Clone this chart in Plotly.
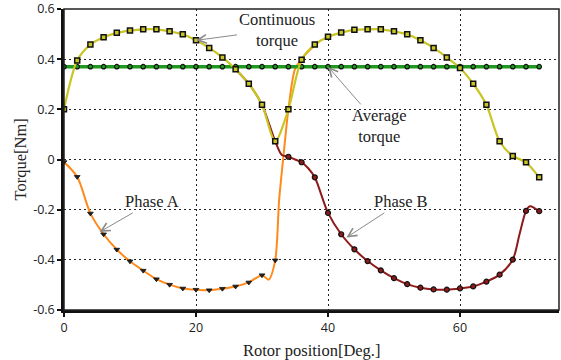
import plotly.graph_objects as go

# ---------------- data ----------------
cont_x = [0, 2, 4, 6, 8, 10, 12, 14, 16, 18, 20, 22, 24, 26, 28, 30, 32, 34, 36,
          38, 40, 42, 44, 46, 48, 50, 52, 54, 56, 58, 60, 62, 64, 66, 68, 70, 72]
cont_y = [0.200, 0.395, 0.458, 0.487, 0.505, 0.514, 0.519, 0.519, 0.511, 0.499,
          0.475, 0.445, 0.407, 0.360, 0.302, 0.218, 0.073, 0.200, 0.398,
          0.458, 0.489, 0.506, 0.517, 0.519, 0.519, 0.511, 0.499, 0.475, 0.445,
          0.407, 0.365, 0.302, 0.218, 0.073, 0.014, -0.011, -0.071]

avg_x = [0, 2, 4, 6, 8, 10, 12, 14, 16, 18, 20, 22, 24, 26, 28, 30, 32, 34, 36,
         38, 40, 42, 44, 46, 48, 50, 52, 54, 56, 58, 60, 62, 64, 66, 68, 70, 72]
avg_y = [0.37, 0.37, 0.37, 0.37, 0.37, 0.37, 0.37, 0.37, 0.37, 0.37, 0.37, 0.37,
         0.37, 0.37, 0.37, 0.37, 0.37, 0.37, 0.37, 0.37, 0.37, 0.37, 0.37, 0.37,
         0.37, 0.37, 0.37, 0.37, 0.37, 0.37, 0.37, 0.37, 0.37, 0.37, 0.37, 0.37, 0.37]

phaseA_x = [0, 2, 4, 6, 8, 10, 12, 14, 16, 18, 20, 22, 24, 26, 28, 30, 31, 32,
            32.6, 33.2, 34, 35, 36, 37, 38]
phaseA_y = [-0.010, -0.069, -0.215, -0.298, -0.359, -0.406, -0.443, -0.477,
            -0.499, -0.514, -0.519, -0.521, -0.515, -0.506, -0.490, -0.461,
            -0.479, -0.402, -0.160, 0.000, 0.200, 0.360, 0.400, 0.430, 0.455]

phaseB_x = [26, 28, 30, 32, 33, 34, 35, 36, 37, 38, 40, 42, 44, 46, 48, 50, 52,
            54, 56, 58, 60, 62, 64, 66, 68, 69, 70, 70.6, 72]
phaseB_y = [0.360, 0.302, 0.218, 0.073, 0.018, 0.011, 0.000, -0.011, -0.035,
            -0.071, -0.213, -0.298, -0.358, -0.405, -0.442, -0.473, -0.497,
            -0.511, -0.518, -0.519, -0.514, -0.506, -0.487, -0.459, -0.399,
            -0.300, -0.205, -0.186, -0.206]

x_ticks = [0, 20, 40, 60]
y_ticks = [-0.6, -0.4, -0.2, 0, 0.2, 0.4, 0.6]
y_ticktext = ["-0.6", "-0.4", "-0.2", "0", "0.2", "0.4", "0.6"]

# marker subsets (points on the 2-degree grid)
a_mx = [x for x in phaseA_x if x % 2 == 0 and x <= 32]
a_my = [y for x, y in zip(phaseA_x, phaseA_y) if x % 2 == 0 and x <= 32]
b_mx = [x for x in phaseB_x if x % 2 == 0 and x >= 34]
b_my = [y for x, y in zip(phaseB_x, phaseB_y) if x % 2 == 0 and x >= 34]

YEL = "#c9c524"
GRN = "#1f9a1f"
ORG = "#ff8a1c"
RED = "#8e1a1a"

fig = go.Figure()

fig.add_trace(go.Scatter(x=phaseA_x, y=phaseA_y, mode="lines",
                         line=dict(color=ORG, width=2, shape="spline", smoothing=0.8),
                         hoverinfo="skip"))
fig.add_trace(go.Scatter(x=a_mx, y=a_my, mode="markers",
                         marker=dict(symbol="triangle-down", size=5, color="#222222",
                                     line=dict(color="#111111", width=0.8))))
fig.add_trace(go.Scatter(x=phaseB_x, y=phaseB_y, mode="lines",
                         line=dict(color=RED, width=2, shape="spline", smoothing=0.8),
                         hoverinfo="skip"))
fig.add_trace(go.Scatter(x=b_mx, y=b_my, mode="markers",
                         marker=dict(symbol="circle", size=5, color=RED,
                                     line=dict(color="#111111", width=1.2))))
fig.add_trace(go.Scatter(x=avg_x, y=avg_y, mode="lines+markers",
                         line=dict(color=GRN, width=3.5),
                         marker=dict(symbol="circle", size=4.5, color=GRN,
                                     line=dict(color="#111111", width=1.2))))
fig.add_trace(go.Scatter(x=cont_x, y=cont_y, mode="lines+markers",
                         line=dict(color=YEL, width=2.2, shape="spline", smoothing=0.8),
                         marker=dict(symbol="square", size=5, color=YEL,
                                     line=dict(color="#111111", width=1.5))))

serif = "Liberation Serif, Times New Roman, serif"
ann_font = dict(family=serif, size=16.5, color="#222222")
arrow = dict(showarrow=True, arrowhead=5, arrowsize=1.7, arrowwidth=1,
             arrowcolor="#8a8a8a", axref="x", ayref="y")

fig.add_annotation(x=20, y=0.475, ax=32.2, ay=0.518, text="Continuous<br>torque",
                   font=ann_font, **arrow)
fig.add_annotation(x=40, y=0.37, ax=47.8, ay=0.134, text="Average<br>torque",
                   font=ann_font, **arrow)
fig.add_annotation(x=5.4, y=-0.289, ax=13.3, ay=-0.169, text="Phase A",
                   font=ann_font, **arrow)
fig.add_annotation(x=42.8, y=-0.311, ax=51.1, ay=-0.169, text="Phase B",
                   font=ann_font, **arrow)

# axis titles placed explicitly
title_font = dict(family=serif, size=16.5, color="#222222")
fig.add_annotation(x=0.5, y=-40 / 301, xref="paper", yref="paper",
                   text="Rotor position[Deg.]", showarrow=False, font=title_font,
                   xanchor="center", yanchor="middle")
fig.add_annotation(x=-44 / 495, y=0.5, xref="paper", yref="paper",
                   text="Torque[Nm]", showarrow=False, font=title_font,
                   textangle=-90, xanchor="center", yanchor="middle")

# thin frame (top / right)
fig.add_shape(type="rect", xref="paper", yref="paper", x0=0, y0=0, x1=1, y1=1,
              line=dict(color="#222222", width=1.5), layer="above")

tick_font = dict(family="Open Sans, DejaVu Sans, sans-serif", size=12.5, color="#222222")

fig.update_layout(
    width=561, height=360,
    margin=dict(l=64, r=2, t=9, b=50, autoexpand=False),
    paper_bgcolor="white", plot_bgcolor="white",
    showlegend=False,
    hovermode=False,
    xaxis=dict(range=[0, 75], tickvals=x_ticks, ticktext=[str(v) for v in x_ticks],
               showgrid=True, gridcolor="#222222", griddash="2px,3px", gridwidth=1.4,
               zeroline=False, showline=True, linecolor="#111111", linewidth=2.5,
               ticks="outside", ticklen=4, tickcolor="#111111", tickwidth=1.5,
               tickfont=tick_font, automargin=False),
    yaxis=dict(range=[-0.6, 0.6], tickvals=y_ticks, ticktext=y_ticktext,
               showgrid=True, gridcolor="#222222", griddash="2px,3px", gridwidth=1.4,
               zeroline=False, showline=True, linecolor="#111111", linewidth=2.5,
               ticks="outside", ticklen=4, tickcolor="#111111", tickwidth=1.5,
               tickfont=tick_font, automargin=False),
)

fig.write_html("out.html", config={"displayModeBar": False},
               post_script="document.body.style.margin='0';document.body.style.padding='0';")
